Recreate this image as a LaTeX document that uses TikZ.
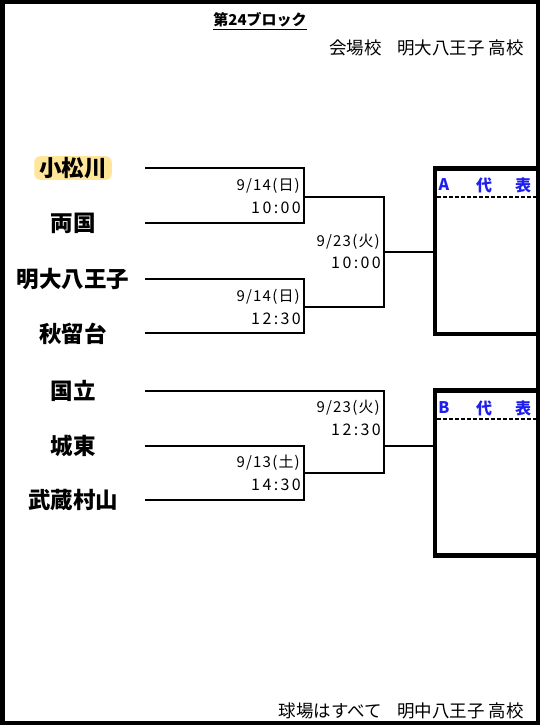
\documentclass[tikz,border=0pt]{standalone}
\usepackage{fontspec}
\setmainfont{Noto Sans CJK JP}
\newfontfamily\datefont{Noto Sans CJK JP}[LetterSpace=8]
\newfontfamily\timefont{Noto Sans CJK JP}[LetterSpace=15]
\definecolor{hl}{HTML}{FFE699}
\definecolor{rep}{HTML}{1E1EF0}
\begin{document}
\begin{tikzpicture}[x=1pt,y=-1pt,
  team/.style={font=\fontsize{22.5}{24}\selectfont\bfseries, inner sep=0pt, anchor=center},
  date/.style={font=\datefont\fontsize{15}{17}\selectfont, inner sep=0pt, anchor=east},
  time/.style={font=\timefont\fontsize{16}{18}\selectfont, inner sep=0pt, anchor=east},
  brk/.style={line width=2pt},
  frame/.style={line width=4.5pt},
  repbox/.style={line width=4.5pt},
  reptext/.style={font=\fontsize{16}{18}\selectfont\bfseries, text=rep, inner sep=0pt, anchor=center},
  note/.style={font=\fontsize{17.5}{19}\selectfont, inner sep=0pt, anchor=east}]
\useasboundingbox (0,0) rectangle (540,725);
\fill[white] (0,0) rectangle (540,725);
% frame
\draw[frame] (2.25,2.25) rectangle (537.75,722.75);
% title
\node[font=\fontsize{15}{17}\selectfont\bfseries, inner sep=0pt] (title) at (260,20) {第24ブロック};
\draw[line width=1pt] ([yshift=-2pt]title.south west) -- ([yshift=-2pt]title.south east);
\node[note] (venue) at (524,48) {会場校\hspace{0.9em}明大八王子 高校};
\node[note] (park) at (524,711) {球場はすべて\hspace{0.9em}明中八王子 高校};
% teams
\node[team, fill=hl, rounded corners=6pt, inner xsep=5pt, inner ysep=1pt] (n1) at (73,168) {小松川};
\node[team] (n2) at (73,223) {両国};
\node[team] (n3) at (73,279) {明大八王子};
\node[team] (n4) at (73,334) {秋留台};
\node[team] (n5) at (73,391) {国立};
\node[team] (n6) at (73,446) {城東};
\node[team] (n7) at (73,500) {武蔵村山};
% line start points
\coordinate (s1) at (145,168);
\coordinate (s2) at (145,223);
\coordinate (s3) at (145,279);
\coordinate (s4) at (145,333);
\coordinate (s5) at (145,391);
\coordinate (s6) at (145,446);
\coordinate (s7) at (145,500);
% first-round junctions
\coordinate (a1) at (304,168);
\coordinate (a2) at (304,223);
\coordinate (a3) at (304,279);
\coordinate (a4) at (304,333);
\coordinate (a6) at (304,446);
\coordinate (a7) at (304,500);
\coordinate (m1) at (304,197);
\coordinate (m2) at (304,307);
\coordinate (m3) at (304,473);
% second-round
\coordinate (b1) at (384,197);
\coordinate (b2) at (384,307);
\coordinate (b5) at (384,391);
\coordinate (b3) at (384,473);
\coordinate (c1) at (384,252);
\coordinate (c2) at (384,446);
\coordinate (ra) at (435,252);
\coordinate (rb) at (435,446);
\draw[brk] (s1) -- (a1) -- (a2) -- (s2);
\draw[brk] (s3) -- (a3) -- (a4) -- (s4);
\draw[brk] (s6) -- (a6) -- (a7) -- (s7);
\draw[brk] (m1) -- (b1) -- (b2) -- (m2);
\draw[brk] (s5) -- (b5) -- (b3) -- (m3);
\draw[brk] (c1) -- (ra);
\draw[brk] (c2) -- (rb);
% dates
\node[date] (d1a) at (300,186) {9/14(日)};
\node[time] (d1b) at (301,208) {10:00};
\node[date] (d2a) at (300,297) {9/14(日)};
\node[time] (d2b) at (301,319) {12:30};
\node[date] (d3a) at (380,242) {9/23(火)};
\node[time] (d3b) at (381,263) {10:00};
\node[date] (d4a) at (380,408) {9/23(火)};
\node[time] (d4b) at (381,430) {12:30};
\node[date] (d5a) at (300,463) {9/13(土)};
\node[time] (d5b) at (301,485) {14:30};
% representative boxes
\draw[repbox] (540,168.5) -- (435,168.5) -- (435,334) -- (540,334);
\draw[repbox] (540,390.5) -- (435,390.5) -- (435,555.5) -- (540,555.5);
\node[reptext] (ra1) at (444,185) {A};
\node[reptext] (ra2) at (484,185) {代};
\node[reptext] (ra3) at (523,185) {表};
\draw[line width=1.5pt, dash pattern=on 4pt off 2pt] (437,197) -- (536,197);
\node[reptext] (rb1) at (444,408) {B};
\node[reptext] (rb2) at (484,408) {代};
\node[reptext] (rb3) at (523,408) {表};
\draw[line width=1.5pt, dash pattern=on 4pt off 2pt] (437,419) -- (536,419);
\end{tikzpicture}
\end{document}
